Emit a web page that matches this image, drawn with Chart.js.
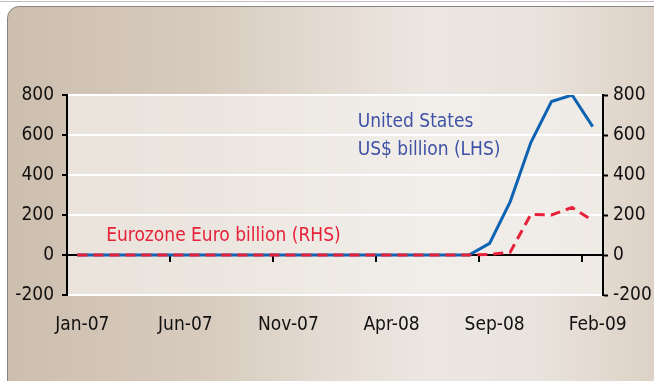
<!DOCTYPE html>
<html>
<head>
<meta charset="utf-8">
<script src="https://cdn.jsdelivr.net/npm/chart.js@4/dist/chart.umd.min.js"></script>
<style>
  html, body { margin: 0; padding: 0; background: #fff; }
  .wrap { position: relative; width: 654px; height: 381px; overflow: hidden; }
  .topline { position: absolute; left: 0; top: 1px; width: 654px; height: 1px; background: #c4bcc2; }
  .panel {
    position: absolute; left: 7px; top: 6px; width: 680px; height: 400px;
    border: 1px solid #8a8580; border-radius: 12px;
    background: linear-gradient(90deg, #cdbfae 0%, #d8ccbf 30%, #e6ded6 50%, #ece7e2 62%, #e9e3dd 78%, #dacdbf 100%);
  }
  canvas { position: absolute; left: 0; top: 0; }
</style>
</head>
<body>
<div class="wrap">
  <div class="topline"></div>
  <div class="panel"></div>
  <canvas id="chart" width="654" height="381"></canvas>
</div>
<script>
// monthly, Jan-07 .. Feb-09
const months = ['Jan-07','Feb-07','Mar-07','Apr-07','May-07','Jun-07','Jul-07','Aug-07','Sep-07','Oct-07','Nov-07','Dec-07',
                'Jan-08','Feb-08','Mar-08','Apr-08','May-08','Jun-08','Jul-08','Aug-08','Sep-08','Oct-08','Nov-08','Dec-08',
                'Jan-09','Feb-09'];
const usBillion = [0,0,0,0,0,0,0,0,0,0,0,0,0,0,0,0,0,0,0,0,58,267,562,767,800,642];
const euroBillion = [0,0,0,0,0,0,0,0,0,0,0,0,0,0,0,0,0,0,0,0,3,14,203,200,238,172];
const yTicks = [-200, 0, 200, 400, 600, 800];

const blue = '#0f63b3';
const red = '#e8213a';
const font = '"Liberation Sans Narrow", "DejaVu Sans Condensed", "Arial Narrow", sans-serif';

Chart.defaults.font.family = font;
Chart.defaults.font.size = 19;
Chart.defaults.color = '#111';

// light panel behind the plot + the two text notes
const plotDecor = {
  id: 'plotDecor',
  beforeDraw(chart) {
    const {ctx, chartArea: a} = chart;
    ctx.save();
    ctx.fillStyle = 'rgba(243, 240, 236, 0.72)';
    ctx.fillRect(a.left, a.top, a.right - a.left, a.bottom - a.top);
    ctx.restore();
  },
  afterDraw(chart) {
    const {ctx} = chart;
    const x = chart.scales.x, y = chart.scales.y;
    ctx.save();
    ctx.font = '19px ' + font;
    ctx.textBaseline = 'middle';
    ctx.fillStyle = '#3f52a6';
    ctx.fillText('United States', x.getPixelForValue(13.6), y.getPixelForValue(665));
    ctx.fillText('US$ billion (LHS)', x.getPixelForValue(13.6), y.getPixelForValue(525));
    ctx.fillStyle = red;
    ctx.fillText('Eurozone Euro billion (RHS)', x.getPixelForValue(1.4), y.getPixelForValue(95));
    ctx.restore();
  }
};

new Chart(document.getElementById('chart'), {
  type: 'line',
  data: {
    labels: months,
    datasets: [
      {
        label: 'United States US$ billion (LHS)',
        data: usBillion,
        yAxisID: 'y',
        borderColor: blue,
        borderWidth: 3,
        pointRadius: 0,
        tension: 0,
        order: 2
      },
      {
        label: 'Eurozone Euro billion (RHS)',
        data: euroBillion,
        yAxisID: 'y1',
        borderColor: red,
        borderWidth: 3,
        borderDash: [10, 6],
        pointRadius: 0,
        tension: 0,
        order: 1
      }
    ]
  },
  options: {
    responsive: false,
    animation: false,
    layout: { padding: { top: 95, left: 0, right: 0, bottom: 0 } },
    plugins: { legend: { display: false }, tooltip: { enabled: false } },
    scales: {
      // zero line with the 5-month tick marks
      x: {
        type: 'category',
        position: { y: 0 },
        offset: true,
        ticks: { display: false, autoSkip: false },
        grid: {
          offset: true,
          drawOnChartArea: false,
          tickLength: 6,
          lineWidth: 2,
          color: ctx => (ctx.index > 0 && ctx.index % 5 === 0 && ctx.index < months.length) ? '#000' : 'rgba(0,0,0,0)'
        },
        border: { color: '#000', width: 2 }
      },
      // month labels along the bottom
      x2: {
        type: 'category',
        position: 'bottom',
        offset: true,
        grid: { display: false },
        border: { display: false },
        ticks: {
          autoSkip: false,
          maxRotation: 0,
          padding: 11,
          labelOffset: 5,
          callback: (v, i) => i % 5 === 0 ? months[i] : ''
        },
        afterFit: s => { s.height = 86; }
      },
      y: {
        position: 'left',
        min: -200,
        max: 800,
        afterBuildTicks: s => { s.ticks = yTicks.map(v => ({value: v})); },
        ticks: { padding: 8 },
        grid: {
          color: ctx => ctx.tick && ctx.tick.value === 0 ? 'rgba(0,0,0,0)' : '#ffffff',
          lineWidth: 2,
          tickLength: 5,
          tickColor: '#000',
          tickWidth: 2
        },
        border: { color: '#000', width: 2 },
        afterFit: s => { s.width = 67; }
      },
      y1: {
        position: 'right',
        min: -200,
        max: 800,
        afterBuildTicks: s => { s.ticks = yTicks.map(v => ({value: v})); },
        ticks: { padding: 5 },
        grid: {
          drawOnChartArea: false,
          tickLength: 5,
          tickColor: '#000',
          tickWidth: 2
        },
        border: { color: '#000', width: 2 },
        afterFit: s => { s.width = 51; }
      }
    }
  },
  plugins: [plotDecor]
});
</script>
</body>
</html>
